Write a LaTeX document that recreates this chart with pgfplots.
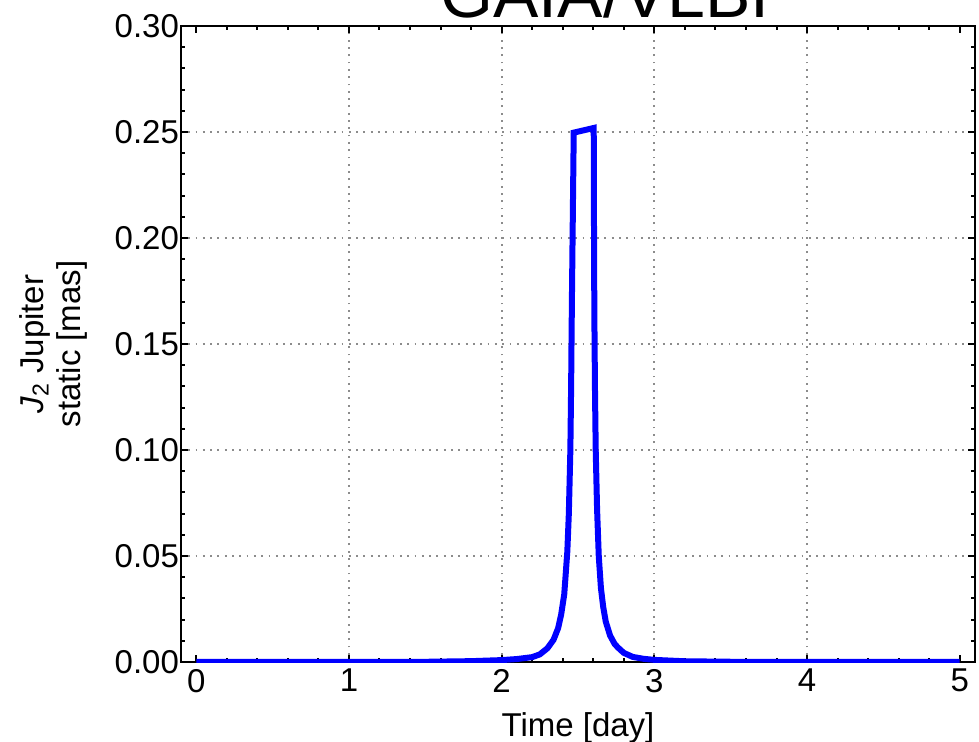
\documentclass[border=0pt]{standalone}
\usepackage{pgfplots}
\pgfplotsset{compat=1.18}
\usepackage{fontspec}
\setmainfont{Liberation Sans}

\pgfplotstableread{
x y
0.00 0.00001
0.50 0.00002
1.00 0.00004
1.50 0.00010
1.80 0.00040
2.00 0.00090
2.10 0.00140
2.20 0.00230
2.25 0.00360
2.30 0.00650
2.34 0.01050
2.37 0.01600
2.39 0.02250
2.41 0.03200
2.43 0.05200
2.44 0.07000
2.45 0.10000
2.455 0.13000
2.460 0.17000
2.466 0.21000
2.472 0.24970
2.603 0.25190
2.605 0.20000
2.607 0.16500
2.611 0.13000
2.616 0.10000
2.625 0.07200
2.636 0.05000
2.650 0.03500
2.665 0.02600
2.682 0.01900
2.710 0.01250
2.740 0.00850
2.762 0.00680
2.800 0.00430
2.859 0.00240
2.930 0.00150
3.000 0.00100
3.200 0.00035
3.500 0.00012
4.000 0.00005
4.500 0.00002
5.000 0.00001
}\curvedata

\begin{document}
\begin{tikzpicture}
\begin{axis}[
  scale only axis,
  width=397pt, height=318pt,
  xmin=-0.1, xmax=5.1, ymin=0, ymax=0.3,
  xtick={1,2,3,4},
  extra x ticks={0,5},
  extra x tick style={grid=none},
  ytick={0.05,0.10,0.15,0.20,0.25},
  extra y ticks={0,0.30},
  extra y tick style={grid=none},
  minor xtick={0.2,0.4,0.6,0.8,1.2,1.4,1.6,1.8,2.2,2.4,2.6,2.8,3.2,3.4,3.6,3.8,4.2,4.4,4.6,4.8},
  minor ytick={0.01,0.02,0.03,0.04,0.06,0.07,0.08,0.09,0.11,0.12,0.13,0.14,0.16,0.17,0.18,0.19,0.21,0.22,0.23,0.24,0.26,0.27,0.28,0.29},
  scaled y ticks=false,
  scaled x ticks=false,
  /pgf/number format/assume math mode=true,
  yticklabel style={/pgf/number format/fixed, /pgf/number format/fixed zerofill, /pgf/number format/precision=2, xshift=2.5pt},
  tick label style={font=\fontsize{16.5}{19}\selectfont},
  grid=major,
  major grid style={black!45, line width=0.9pt, dash pattern=on 0.9pt off 2.75pt},
  tick align=inside,
  tick style={black, line width=1pt},
  major tick length=3.5pt,
  minor tick length=2pt,
  axis line style={black, line width=1pt},
  xlabel={Time [day]},
  xlabel style={font=\fontsize{16.5}{19}\selectfont, at={(axis description cs:0.5,0)}, anchor=base, yshift=-37pt},
  ylabel={{\itshape J}\textsubscript{2} Jupiter\\static [mas]},
  ylabel style={font=\fontsize{16.5}{18.5}\selectfont, align=center, at={(axis description cs:-0.1606,0.5)}, anchor=center, rotate=0},
]
\addplot[blue, line width=3pt, line join=miter, no marks] table[x=x, y=y] {\curvedata};
\end{axis}
\node[anchor=base, font=\fontsize{34}{40}\selectfont] at ([shift={(212pt,4.25pt)}]current axis.north west) {GAIA/VLBI};
\pgfresetboundingbox
\path[use as bounding box] ([shift={(-90.5pt,-39.5pt)}]current axis.south west) rectangle ([shift={(2pt,13pt)}]current axis.north east);
\end{tikzpicture}
\end{document}
